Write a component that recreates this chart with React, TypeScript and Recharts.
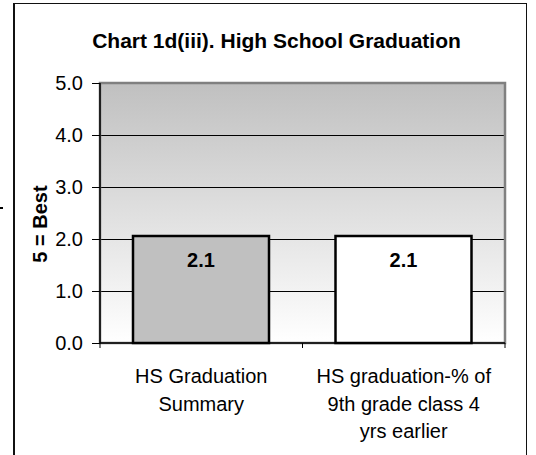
import React from 'react';
import { BarChart, Bar, XAxis, YAxis, CartesianGrid, LabelList, Cell, ReferenceArea } from 'recharts';

const categories = ['HS Graduation Summary', 'HS graduation-% of 9th grade class 4 yrs earlier'];
const categoryLines = [['HS Graduation', 'Summary'], ['HS graduation-% of', '9th grade class 4', 'yrs earlier']];
const scores = [2.06, 2.06];
const yTicks = [0, 1, 2, 3, 4, 5];

const data = categories.map((name, i) => ({ name, score: scores[i] }));

const FONT = '"Liberation Sans", Arial, Helvetica, sans-serif';
const barFills = ['#c0c0c0', '#ffffff'];
const PLOT_LEFT = 100;
const PLOT_RIGHT = 505;
const BAND = (PLOT_RIGHT - PLOT_LEFT) / categories.length;

function CategoryTick(props: any) {
  const { x, y, payload } = props;
  const idx = categories.indexOf(payload.value);
  const lines = categoryLines[idx] || [payload.value];
  return (
    <g>
      <line x1={x - BAND / 2} x2={x - BAND / 2} y1={y} y2={y + 5} stroke="#000" strokeWidth={1} />
      <line x1={x + BAND / 2} x2={x + BAND / 2} y1={y} y2={y + 5} stroke="#000" strokeWidth={1} />
      <text x={x} y={y + 40} textAnchor="middle" fontSize={20} fontFamily={FONT} fill="#000">
        {lines.map((l, i) => (
          <tspan key={i} x={x} dy={i === 0 ? 0 : 27.7}>
            {l}
          </tspan>
        ))}
      </text>
    </g>
  );
}

export default function App() {
  return (
    <div style={{ position: 'absolute', left: 0, top: 0, width: 536, height: 455, overflow: 'hidden', background: '#fff', fontFamily: FONT }}>
      {/* outer frame, bottom edge is cut off in the original */}
      <div
        style={{
          position: 'absolute',
          left: 13,
          top: 3,
          width: 514,
          height: 452,
          boxSizing: 'border-box',
          borderLeft: '2px solid #111',
          borderTop: '1.5px solid #111',
          borderRight: '1.5px solid #111',
        }}
      />
      <div style={{ position: 'absolute', left: 0, top: 207, width: 3, height: 2, background: '#000' }} />
      <div style={{ position: 'absolute', left: 0, top: 0 }}>
        <BarChart width={536} height={455} data={data} margin={{ top: 83, right: 31, bottom: 0, left: 0 }}>
          <defs>
            <linearGradient id="plotBg" x1="0" y1="0" x2="0" y2="1">
              <stop offset="0%" stopColor="#c0c0c0" />
              <stop offset="100%" stopColor="#ffffff" />
            </linearGradient>
          </defs>
          <CartesianGrid
            vertical={false}
            stroke="#000"
            strokeWidth={1}
            fill="url(#plotBg)"
            fillOpacity={1}
            shapeRendering="crispEdges"
          />
          <ReferenceArea y1={0} y2={5} fill="none" stroke="#808080" strokeWidth={2.5} />
          <XAxis
            dataKey="name"
            height={112}
            interval={0}
            tickLine={false}
            tickSize={0}
            tickMargin={0}
            axisLine={{ stroke: '#000', strokeWidth: 1.5 }}
            tick={<CategoryTick />}
          />
          <YAxis
            width={100}
            domain={[0, 5]}
            ticks={yTicks}
            interval={0}
            tickSize={8}
            tickMargin={9}
            tickFormatter={(v: number) => v.toFixed(1)}
            tickLine={{ stroke: '#000', shapeRendering: 'crispEdges' }}
            axisLine={{ stroke: '#000', strokeWidth: 1.5 }}
            tick={{ fill: '#000', fontSize: 20, fontFamily: FONT }}
          />
          <Bar dataKey="score" barSize={136} stroke="#000" strokeWidth={2.5} isAnimationActive={false}>
            {data.map((d, i) => (
              <Cell key={d.name} fill={barFills[i]} />
            ))}
            <LabelList
              dataKey="score"
              position="insideTop"
              offset={17}
              formatter={(v: any) => Number(v).toFixed(1)}
              fill="#000"
              fontSize={20}
              fontWeight="bold"
              fontFamily={FONT}
            />
          </Bar>
        </BarChart>
      </div>
      <svg width={536} height={455} style={{ position: 'absolute', left: 0, top: 0, pointerEvents: 'none' }}>
        <text x={276.5} y={47.7} textAnchor="middle" fontSize={21} fontWeight="bold" fontFamily={FONT} fill="#000">
          Chart 1d(iii). High School Graduation
        </text>
        <text transform="translate(47,224) rotate(-90)" textAnchor="middle" fontSize={20} fontWeight="bold" fontFamily={FONT} fill="#000">
          5 = Best
        </text>
      </svg>
    </div>
  );
}
